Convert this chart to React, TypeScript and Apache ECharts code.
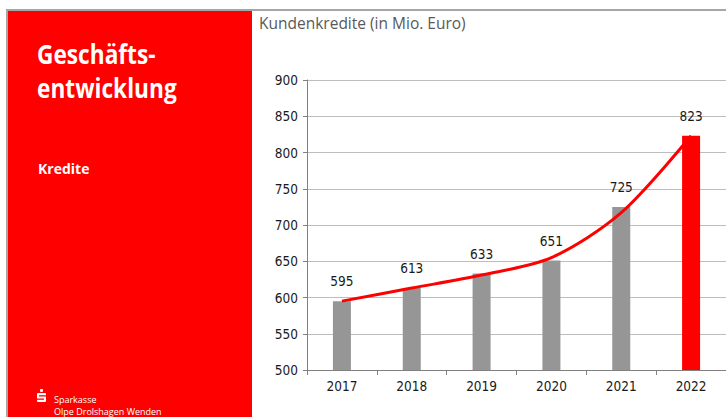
import React, { useEffect, useRef } from "react";
import * as echarts from "echarts";

const categories = ["2017", "2018", "2019", "2020", "2021", "2022"];
const values = [595, 613, 633, 651, 725, 823];
const trendValues = [595, 613, 631, 655, 717, 823];
const yTicks = { min: 500, max: 900, interval: 50 };

const GRAY_BAR = "#969696";
const RED = "#ff0000";

export default function App() {
  const ref = useRef<HTMLDivElement>(null);
  useEffect(() => {
    if (!ref.current) return;
    const chart = echarts.init(ref.current, undefined, { renderer: "svg" });
    const labelFont = "'DejaVu Sans Condensed', 'DejaVu Sans', sans-serif";
    chart.setOption({
      animation: false,
      backgroundColor: "#ffffff",
      grid: { left: 307, top: 80, width: 421, bottom: 47, containLabel: false },
      xAxis: {
        type: "category",
        data: categories,
        boundaryGap: true,
        axisLine: { lineStyle: { color: "#808080", width: 1 } },
        axisTick: { show: true, length: 5, lineStyle: { color: "#808080" } },
        axisLabel: { color: "#1a1a1a", fontSize: 13.5, fontFamily: labelFont, margin: 9 },
      },
      yAxis: {
        type: "value",
        min: yTicks.min,
        max: yTicks.max,
        interval: yTicks.interval,
        axisLine: { show: true, lineStyle: { color: "#808080", width: 1 } },
        axisTick: { show: true, length: 4, lineStyle: { color: "#808080" } },
        axisLabel: { color: "#1a1a1a", fontSize: 13.5, fontFamily: labelFont, margin: 9 },
        splitLine: { show: true, lineStyle: { color: "#bdbdbd", width: 1 } },
      },
      series: [
        {
          type: "bar",
          data: values.map((v, i) => ({
            value: v,
            itemStyle: { color: i === values.length - 1 ? RED : GRAY_BAR },
          })),
          barWidth: 18,
          label: {
            show: true,
            position: "top",
            distance: 13,
            color: "#1a1a1a",
            fontSize: 13.5,
            fontFamily: labelFont,
          },
          z: 2,
        },
        {
          type: "line",
          data: trendValues,
          smooth: 0.3,
          showSymbol: false,
          symbol: "none",
          lineStyle: { color: RED, width: 3 },
          z: 3,
        },
      ],
      graphic: [
        { type: "rect", shape: { x: 6, y: 9, width: 720, height: 2 }, style: { fill: "#a6a6a6" }, silent: true },
        { type: "rect", shape: { x: 6, y: 9, width: 2, height: 408 }, style: { fill: "#a6a6a6" }, silent: true },
        { type: "rect", shape: { x: 8, y: 11, width: 244, height: 406 }, style: { fill: RED }, silent: true },
        {
          type: "text",
          x: 37,
          y: 36,
          scaleX: 0.84,
          style: {
            text: "Geschäfts-\nentwicklung",
            fill: "#ffffff",
            font: "bold 27px 'Open Sans', sans-serif",
            lineHeight: 34,
          },
        },
        {
          type: "text",
          x: 38,
          y: 161,
          style: { text: "Kredite", fill: "#ffffff", font: "bold 14px 'Open Sans', sans-serif" },
        },
        {
          type: "text",
          x: 259,
          y: 15,
          style: { text: "Kundenkredite (in Mio. Euro)", fill: "#595959", font: "15.5px 'Open Sans', sans-serif" },
        },
        // Sparkasse logo (simplified)
        { type: "circle", shape: { cx: 41.5, cy: 390.5, r: 1.6 }, style: { fill: "#ffffff" }, silent: true },
        { type: "rect", shape: { x: 37, y: 393, width: 9, height: 9, r: 1 }, style: { fill: "#ffffff" }, silent: true },
        { type: "rect", shape: { x: 39, y: 395.2, width: 7, height: 1.3 }, style: { fill: RED }, silent: true },
        { type: "rect", shape: { x: 37, y: 398.5, width: 7, height: 1.3 }, style: { fill: RED }, silent: true },
        {
          type: "text",
          x: 54,
          y: 399.5,
          style: {
            text: "Sparkasse",
            fill: "#ffffff",
            font: "9px 'Open Sans', sans-serif",
            verticalAlign: "middle",
          },
        },
        {
          type: "text",
          x: 54,
          y: 411,
          style: {
            text: "Olpe Drolshagen Wenden",
            fill: "#ffffff",
            font: "9px 'Open Sans', sans-serif",
            verticalAlign: "middle",
          },
        },
      ],
    });
    return () => chart.dispose();
  }, []);
  return (
    <div
      ref={ref}
      style={{ position: "fixed", left: 0, top: 0, width: 726, height: 417 }}
    />
  );
}
